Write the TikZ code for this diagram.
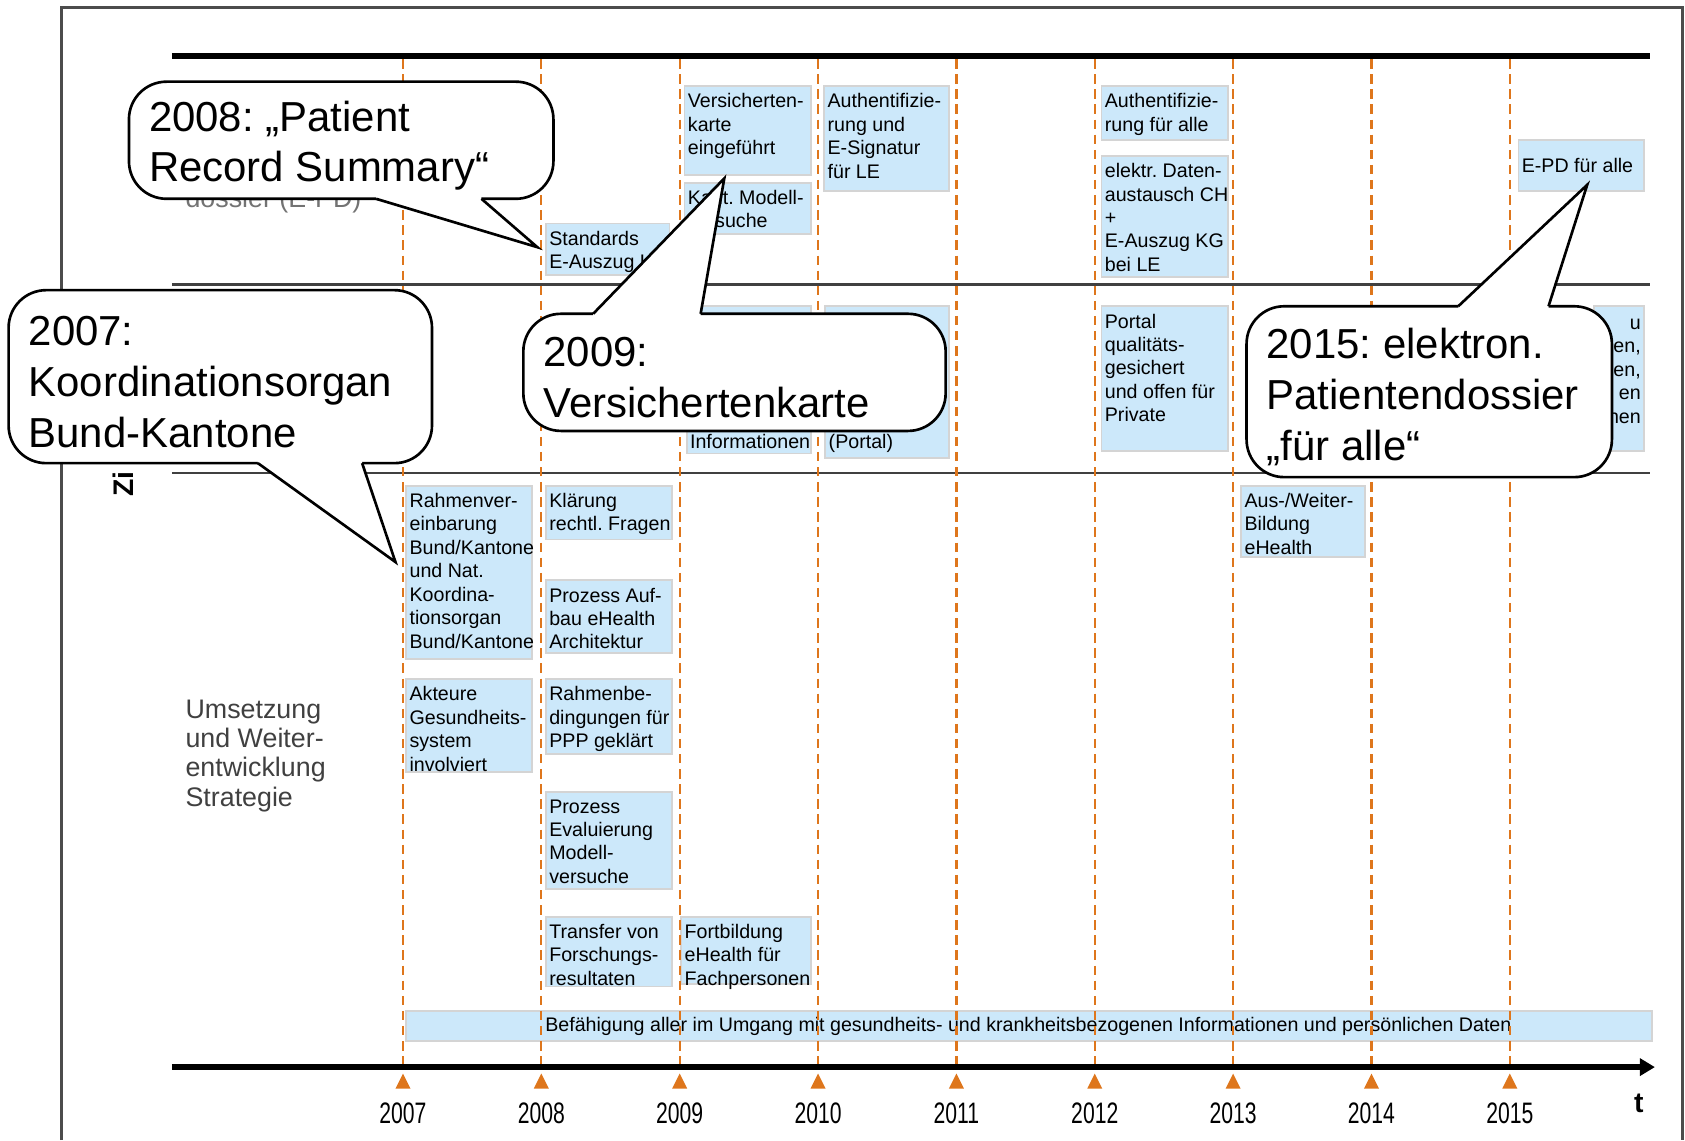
\documentclass[tikz,border=0pt]{standalone}
\usepackage{fontspec}
\setmainfont{Liberation Sans}
\usetikzlibrary{arrows.meta}
\definecolor{taskfill}{RGB}{204,232,250}
\definecolor{taskedge}{RGB}{212,212,212}
\definecolor{yearorange}{RGB}{222,118,28}
\frenchspacing
\newcommand\Task[6]{%
    \draw[taskbox] (#2,#3) rectangle (#4,#5);
    \node[tasktext] (#1) at (#2,#3) {#6};
}
\newcommand\Bubble[6]{%
    \draw[bubble] (#2,#3) rectangle (#4,#5);
    \node[bubbletext] (#1) at ({#2+18},{(#3+#5)/2+5}) {#6};
}
\newcommand\Tail[5]{%
    \fill[white] (#1,#4) -- (#1,#3) -- (#5) -- (#2,#3) -- (#2,#4) -- cycle;
    \draw[bubbleedge] (#1,#3) -- (#5) -- (#2,#3);
}

\begin{document}
\begin{tikzpicture}[x=0.1mm, y=-0.1mm,
    taskbox/.style={draw=taskedge, fill=taskfill, line width=0.5pt},
    tasktext/.style={anchor=north west, align=left, inner xsep=0.7pt, inner ysep=1.8pt,
        font=\fontsize{5.2}{6.2}\selectfont},
    bubble/.style={draw=black, fill=white, line width=0.7pt, rounded corners=3.5mm},
    bubbleedge/.style={draw=black, line width=0.7pt, line join=miter},
    bubbletext/.style={anchor=west, align=left, inner sep=0pt, font=\fontsize{11.1}{13.4}\selectfont},
    yearline/.style={yearorange, line width=0.6pt, dash pattern=on 2.5pt off 1.5pt},
    rowline/.style={black!75, line width=0.7pt},
    frameline/.style={black!70, line width=0.8pt},
    yearlabel/.style={font=\fontsize{5.6}{6}\selectfont, inner sep=0pt},
    sidetext/.style={anchor=north west, align=left, inner sep=0pt, font=\fontsize{7.1}{7.7}\selectfont}]
    \useasboundingbox (0,0) rectangle (1568,1061);
    % frame and rows
    \draw[frameline] (57,1061) -- (57,7) -- (1566,7) -- (1566,1061);
    \draw[line width=1.5pt] (160,52) -- (1535,52);
    \draw[rowline] (160,265) -- (1535,265);
    \draw[rowline] (160,440) -- (1535,440);
    % side labels
    \node[sidetext, anchor=base west, text=black!55] (dossier) at (172,193) {dossier (E-PD)};
    \node[font=\bfseries\fontsize{7.5}{8}\selectfont, rotate=90, anchor=west, inner sep=0pt] (zi) at (115,463) {Zi};
    \node[sidetext, text=black!75] (umsetz) at (172,651) {Umsetzung\\und Weiter-\\entwicklung\\Strategie};
    % top row
    \Task{std}{508}{208}{623}{256}{Standards\\E-Auszug KG}
    \Task{vk}{637}{80}{755}{163}{Versicherten-\\karte\\eingeführt}
    \Task{kmv}{637}{170}{755}{218}{Kant. Modell-\\versuche}
    \Task{ausig}{767}{80}{883}{178}{Authentifizie-\\rung und\\E-Signatur\\für LE}
    \Task{aalle}{1025}{80}{1143}{130}{Authentifizie-\\rung für alle}
    \Task{edat}{1025}{145}{1143}{258}{elektr. Daten-\\austausch CH\\+\\E-Auszug KG\\bei LE}
    \draw[taskbox] (1413,130) rectangle (1530,178);
    \node[tasktext, anchor=west] (epd) at (1413,154) {E-PD für alle};
    % middle row
    \draw[taskbox] (639,285) rectangle (755,422);
    \node[tasktext, anchor=base west] (inf) at (639,417) {Informationen};
    \draw[taskbox] (768,285) rectangle (883,426);
    \node[tasktext, anchor=base west] (ptl) at (768,417) {(Portal)};
    \Task{pqg}{1025}{285}{1143}{420}{Portal\\qualitäts-\\gesichert\\und offen für\\Private}
    \draw[taskbox] (1483,285) rectangle (1530,420);
    \node[tasktext, anchor=north east, align=right] (frag) at (1530,290) {u\\en,\\en,\\en\\hen};
    % bottom row
    \Task{rvb}{378}{452}{495}{613}{Rahmenver-\\einbarung\\Bund/Kantone\\und Nat.\\Koordina-\\tionsorgan\\Bund/Kantone}
    \Task{akt}{378}{632}{495}{718}{Akteure\\Gesundheits-\\system\\involviert}
    \Task{klr}{508}{452}{625}{502}{Klärung\\rechtl. Fragen}
    \Task{pab}{508}{540}{625}{608}{Prozess Auf-\\bau eHealth\\Architektur}
    \Task{rbd}{508}{632}{625}{702}{Rahmenbe-\\dingungen für\\PPP geklärt}
    \Task{pev}{508}{737}{625}{827}{Prozess\\Evaluierung\\Modell-\\versuche}
    \Task{tfr}{508}{853}{625}{918}{Transfer von\\Forschungs-\\resultaten}
    \Task{fbe}{634}{853}{755}{916}{Fortbildung\\eHealth für\\Fachpersonen}
    \Task{awb}{1155}{452}{1270}{518}{Aus-/Weiter-\\Bildung\\eHealth}
    \draw[taskbox] (378,941) rectangle (1537,969);
    \node[font=\fontsize{5.2}{6.2}\selectfont, inner sep=0pt] (bef) at (957,955)
        {Befähigung aller im Umgang mit gesundheits- und krankheitsbezogenen Informationen und persönlichen Daten};
    % years
    \foreach \yr [count=\i from 0] in {2007,2008,...,2015} {
        \pgfmathsetmacro\xx{375+128.75*\i}
        \draw[yearline] (\xx,55) -- (\xx,990);
        \fill[yearorange] (\xx,999) -- ({\xx+7},1013) -- ({\xx-7},1013) -- cycle;
        \node[yearlabel] (y\yr) at (\xx,1036) {\scalebox{1}[1.4]{\yr}};
    }
    % time axis
    \draw[line width=1.5pt, -{Triangle[length=4pt, width=4.5pt]}] (160,993) -- (1540,993);
    \node[font=\bfseries\fontsize{7.5}{8}\selectfont, inner sep=0pt] (tlbl) at (1525,1027) {t};
    % callouts
    \Bubble{c08}{120}{76}{515}{185}{2008: „Patient\\Record Summary“}
    \coordinate (tip08) at (500,230);
    \Tail{350}{448}{185}{181}{tip08}
    \Bubble{c07}{8}{270}{402}{431}{2007:\\Koordinationsorgan\\Bund-Kantone}
    \coordinate (tip07) at (368,523);
    \Tail{240}{337}{431}{427}{tip07}
    \Bubble{c09}{487}{292}{880}{401}{2009:\\Versichertenkarte}
    \coordinate (tip09) at (674,166);
    \Tail{552}{652}{292}{296}{tip09}
    \Bubble{c15}{1160}{285}{1500}{444}{2015: elektron.\\Patientendossier\\„für alle“}
    \coordinate (tip15) at (1477,172);
    \Tail{1357}{1441}{285}{289}{tip15}
\end{tikzpicture}
\end{document}
